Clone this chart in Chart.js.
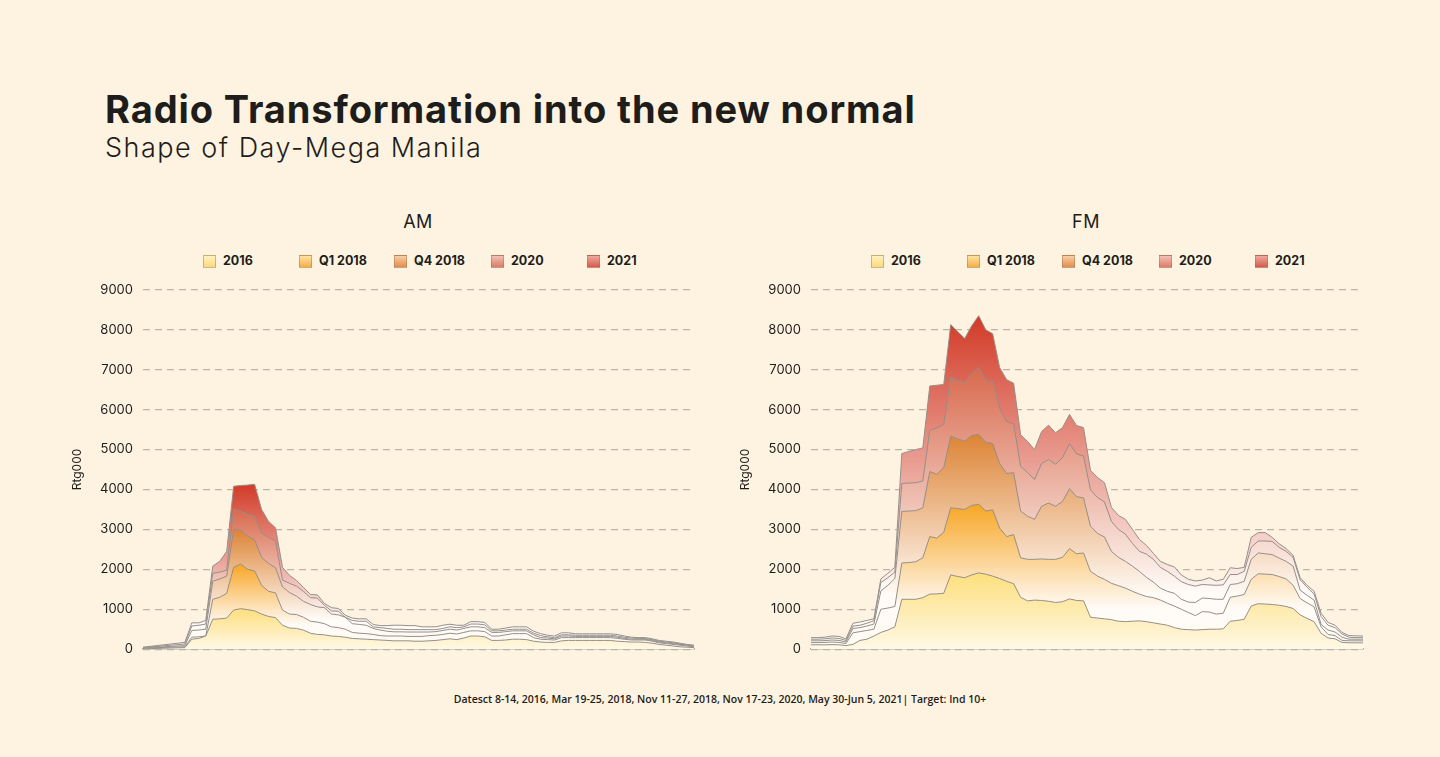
<!DOCTYPE html>
<html>
<head>
<meta charset="utf-8">
<script src="https://cdn.jsdelivr.net/npm/chart.js@4.4.1/dist/chart.umd.min.js"></script>
<style>
  body { margin: 0; background: #fdf3e0; }
  #page { position: relative; width: 1440px; height: 757px; overflow: hidden; background: #fdf3e0; color: #1d1d1b; font-family: Inter, Lato, sans-serif; }
  .title { position: absolute; left: 105px; top: 90px; font-weight: 700; font-size: 38px; line-height: 1; letter-spacing: 0.9px; }
  .sub { position: absolute; left: 105px; top: 134px; font-weight: 300; font-size: 27px; line-height: 1; letter-spacing: 1.5px; }
  .ctitle { position: absolute; top: 213px; width: 200px; text-align: center; font-size: 18px; line-height: 1; letter-spacing: 0.5px; }
  .leg { position: absolute; top: 254px; font-weight: 700; font-size: 12.5px; line-height: 14px; display: flex; align-items: center; white-space: nowrap; }
  .leg i { display: inline-block; width: 11px; height: 11px; margin-right: 7px; border: 1px solid rgba(150, 115, 80, .45); }
  canvas { position: absolute; }
  .foot { position: absolute; left: 0; width: 1440px; top: 692px; text-align: center; font-family: "Open Sans", sans-serif; font-weight: 600; font-size: 10.5px; }
</style>
</head>
<body>
<div id="page">
  <div class="title">Radio Transformation into the new normal</div>
  <div class="sub">Shape of Day-Mega Manila</div>
  <div class="ctitle" style="left:318px">AM</div>
  <div class="ctitle" style="left:986px">FM</div>
  <div id="legAM"></div>
  <div id="legFM"></div>
  <canvas id="amChart" width="640" height="395" style="left:60px;top:272px"></canvas>
  <canvas id="fmChart" width="641" height="395" style="left:728px;top:272px"></canvas>
  <div class="foot">Datesct 8-14, 2016, Mar 19-25, 2018, Nov 11-27, 2018, Nov 17-23, 2020, May 30-Jun 5, 2021| Target: Ind 10+</div>
</div>
<script>
// quarter hours, 4am to midnight
const timeSlots = ['4:00','4:15','4:30','4:45','5:00','5:15','5:30','5:45','6:00','6:15','6:30','6:45','7:00','7:15','7:30','7:45',
  '8:00','8:15','8:30','8:45','9:00','9:15','9:30','9:45','10:00','10:15','10:30','10:45','11:00','11:15','11:30','11:45',
  '12:00','12:15','12:30','12:45','13:00','13:15','13:30','13:45','14:00','14:15','14:30','14:45','15:00','15:15','15:30','15:45',
  '16:00','16:15','16:30','16:45','17:00','17:15','17:30','17:45','18:00','18:15','18:30','18:45','19:00','19:15','19:30','19:45',
  '20:00','20:15','20:30','20:45','21:00','21:15','21:30','21:45','22:00','22:15','22:30','22:45','23:00','23:15','23:30','23:45'];

const seriesNames = ['2016', 'Q1 2018', 'Q4 2018', '2020', '2021'];
const yTicks = [0, 1000, 2000, 3000, 4000, 5000, 6000, 7000, 8000, 9000];

// AM - height of each line (Rtg000)
const amY2016 = [10,15,20,25,30,35,40,250,270,330, 750,760,780,980,1015,990,960,880,820,790,
  600,530,520,480,400,370,360,330,320,300, 270,260,250,240,230,220,210,210,210,200,
  200,210,220,240,260,240,280,330,330,310, 220,220,230,250,250,240,200,180,170,170,
  210,220,220,220,220,220,220,220,200,190, 180,180,170,150,120,100,80,60,50,40];
const amQ12018 = [20,30,40,45,50,55,60,300,310,330, 1250,1300,1400,2050,2130,2000,1960,1600,1450,1410,
  980,880,870,800,700,680,640,560,540,500, 420,400,390,370,340,330,330,330,320,320,
  320,340,350,370,400,380,420,460,460,440, 330,330,360,390,390,390,290,250,240,230,
  290,290,290,290,290,290,290,290,270,250, 230,230,230,200,160,140,120,100,80,60];
const amQ42018 = [30,40,50,60,70,80,90,470,480,500, 1700,1760,1830,3000,2980,2830,2740,2300,2150,2040,
  1560,1420,1330,1200,1120,1060,1040,880,860,800, 640,620,600,520,480,450,435,435,430,430,
  430,430,440,470,500,480,520,560,560,540, 420,420,440,460,460,460,360,290,280,260,
  330,330,320,320,320,320,320,320,300,270, 250,250,250,220,180,160,140,120,100,80];
const amY2020 = [40,55,70,85,100,115,130,580,600,630, 1900,1930,1980,3500,3450,3370,3330,2910,2800,2710,
  1730,1650,1580,1450,1290,1280,1100,960,950,800, 720,700,700,560,540,520,500,500,490,490,
  490,490,490,520,560,540,560,630,630,610, 460,460,480,500,500,500,400,340,310,290,
  360,360,350,350,350,350,350,350,330,300, 280,270,270,240,200,180,160,130,110,90];
const amY2021 = [50,70,90,110,130,150,170,660,660,720, 2080,2200,2450,4080,4100,4110,4130,3500,3200,3040,
  2050,1850,1720,1550,1370,1360,1150,1040,1020,850, 780,760,760,620,590,590,600,600,590,590,
  560,560,560,600,625,600,600,690,690,670, 500,500,530,560,560,560,450,390,350,330,
  410,410,385,385,385,385,385,385,370,330, 300,290,290,260,220,200,180,150,120,100];

// FM
const fmY2016 = [110,110,110,115,110,90,120,220,250,330, 420,480,560,1250,1250,1250,1290,1380,1385,1400,
  1860,1820,1790,1860,1910,1880,1830,1770,1700,1640, 1300,1210,1230,1220,1200,1170,1190,1260,1220,1210,
  800,780,760,740,700,690,700,710,690,660, 630,600,540,500,490,480,490,500,500,510,
  700,720,750,1080,1140,1130,1120,1100,1070,1020, 860,770,690,400,280,260,170,160,160,160];
const fmQ12018 = [165,165,170,180,170,140,410,440,470,500, 1000,1030,1070,2160,2170,2190,2290,2820,2780,2930,
  3540,3520,3500,3600,3630,3460,3490,3030,2820,2870, 2290,2250,2250,2260,2250,2250,2300,2520,2390,2410,
  1950,1830,1750,1650,1590,1530,1450,1380,1320,1290, 1230,1150,1080,1000,920,840,940,930,880,900,
  1300,1330,1370,1750,1890,1880,1870,1820,1760,1600, 1270,1160,1060,560,370,340,220,210,210,210];
const fmQ42018 = [210,210,215,230,220,180,520,540,580,630, 1460,1600,1770,3450,3460,3470,3540,4450,4380,4550,
  5330,5270,5210,5350,5380,5180,5150,4650,4400,4420, 3460,3330,3250,3580,3660,3580,3700,4020,3820,3790,
  3080,2900,2810,2450,2300,2200,2080,1950,1800,1680, 1530,1450,1400,1250,1180,1170,1280,1270,1250,1250,
  1620,1640,1700,2250,2410,2390,2370,2280,2200,2080, 1480,1350,1230,620,480,430,300,250,250,250];
const fmY2020 = [250,250,260,280,270,220,580,600,650,710, 1670,1790,1930,4150,4160,4170,4210,5480,5540,5630,
  6800,6730,6670,6900,7050,6730,6700,6030,5700,5640, 4580,4420,4250,4650,4750,4630,4800,5150,4890,4840,
  3990,3800,3690,3200,3000,2880,2650,2450,2380,2250, 2050,1950,1830,1690,1620,1580,1620,1610,1600,1610,
  1870,1870,1950,2550,2710,2710,2700,2550,2450,2300, 1740,1550,1380,820,600,540,380,300,290,290];
const fmY2021 = [290,290,300,330,320,260,650,680,720,760, 1760,1900,2050,4900,4950,5000,5040,6590,6610,6630,
  8130,7950,7780,8100,8350,8000,7900,7050,6750,6660, 5370,5200,5000,5450,5610,5420,5550,5880,5600,5550,
  4480,4300,4170,3550,3350,3250,3000,2750,2600,2400, 2200,2120,2060,1860,1750,1710,1730,1790,1710,1750,
  2040,2020,2050,2800,2920,2920,2800,2640,2520,2350, 1790,1600,1450,900,670,600,420,340,335,330];

const topColors = ['#fddf7c', '#f7a624', '#dd8435', '#d8694d', '#d23a27'];
const fadeAt = [1, 0.72, 0.75, 0.8, 0.85];
const legendBoxes = [
  'linear-gradient(#fff2c2,#fbd97c)',
  'linear-gradient(#fde2a4,#f7ad45)',
  'linear-gradient(#f7cfa6,#e48c4c)',
  'linear-gradient(#f4c0b2,#dc7c68)',
  'linear-gradient(#efa89e,#d85a4b)'
];
const legendLeft = [203, 299, 394, 491, 587];

function buildLegend(id, shift) {
  const el = document.getElementById(id);
  seriesNames.forEach((name, i) => {
    const d = document.createElement('div');
    d.className = 'leg';
    d.style.left = (legendLeft[i] + shift) + 'px';
    d.innerHTML = `<i style="background:${legendBoxes[i]}"></i>${name}`;
    el.appendChild(d);
  });
}
buildLegend('legAM', 0);
buildLegend('legFM', 668);

function fillFor(i, values) {
  return (c) => {
    const chart = c.chart;
    if (!chart.chartArea) return topColors[i];
    const y = chart.scales.y;
    const top = y.getPixelForValue(Math.max(...values));
    const bottom = y.getPixelForValue(0);
    const g = chart.ctx.createLinearGradient(0, top, 0, bottom);
    g.addColorStop(0, topColors[i]);
    g.addColorStop(fadeAt[i], i === 0 ? '#fff8e6' : '#fffbf7');
    g.addColorStop(1, '#fffaf0');
    return g;
  };
}

function makeChart(id, series) {
  new Chart(document.getElementById(id), {
    type: 'line',
    data: {
      labels: timeSlots,
      datasets: series.map((vals, i) => ({
        label: seriesNames[i],
        data: vals,
        fill: 'origin',
        backgroundColor: fillFor(i, vals),
        borderColor: '#948f8a',
        borderWidth: 1,
        pointRadius: 0,
        tension: 0
      }))
    },
    options: {
      responsive: false,
      animation: false,
      events: [],
      layout: { padding: { top: 10, right: 6, bottom: 6, left: 0 } },
      plugins: { legend: { display: false }, tooltip: { enabled: false } },
      scales: {
        x: {
          ticks: { display: false },
          grid: { display: false },
          border: { display: true, color: '#aaa69f', width: 1.5 }
        },
        y: {
          min: 0, max: 9000,
          afterBuildTicks: (s) => { s.ticks = yTicks.map(v => ({ value: v })); },
          afterFit: (s) => { s.width = 83; },
          ticks: { color: '#1d1d1b', font: { family: 'Inter', size: 13 }, padding: 10, callback: (v) => String(v) },
          grid: { color: '#bcb5a7', lineWidth: 1.3, drawTicks: false },
          border: { display: false, dash: [7, 5] },
          title: { display: true, text: 'Rtg000', color: '#1d1d1b', font: { family: 'Inter', size: 12 }, padding: { top: 10, bottom: 0 } }
        }
      }
    }
  });
}

makeChart('amChart', [amY2016, amQ12018, amQ42018, amY2020, amY2021]);
makeChart('fmChart', [fmY2016, fmQ12018, fmQ42018, fmY2020, fmY2021]);
</script>
</body>
</html>
